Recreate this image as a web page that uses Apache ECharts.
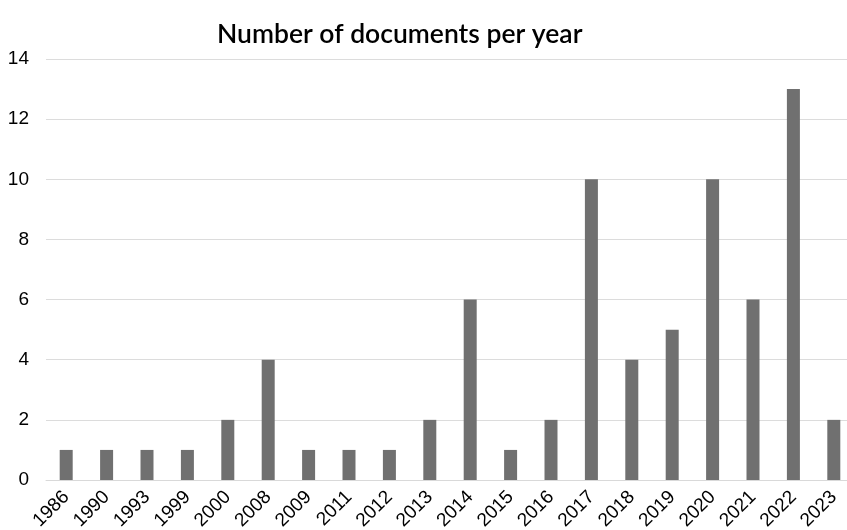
<!DOCTYPE html>
<html>
<head>
<meta charset="utf-8">
<script src="https://cdn.jsdelivr.net/npm/echarts@6/dist/echarts.min.js"></script>
<style>
  html, body { margin: 0; padding: 0; background: #fff; }
  #chart { width: 847px; height: 530px; }
</style>
</head>
<body>
<div id="chart"></div>
<script>
var years = ['1986', '1990', '1993', '1999', '2000', '2008', '2009', '2011', '2012', '2013',
             '2014', '2015', '2016', '2017', '2018', '2019', '2020', '2021', '2022', '2023'];
var docs = [1, 1, 1, 1, 2, 4, 1, 1, 1, 2, 6, 1, 2, 10, 4, 5, 10, 6, 13, 2];

var myChart = echarts.init(document.getElementById('chart'));
myChart.setOption({
    animation: false,
    title: {
        text: 'Number of documents per year',
        left: 212,
        top: 16,
        textStyle: {
            fontFamily: 'Lato',
            fontSize: 26.5,
            fontWeight: 600,
            color: '#000'
        }
    },
    grid: {
        left: 46,
        top: 59,
        width: 808,
        height: 421,
        outerBoundsMode: 'none'
    },
    xAxis: {
        type: 'category',
        data: years,
        axisTick: { show: false },
        axisLine: { lineStyle: { color: '#d9d9d9', width: 1 } },
        axisLabel: {
            rotate: 45,
            interval: 0,
            margin: 14,
            fontFamily: 'Liberation Sans',
            fontSize: 19,
            color: '#000'
        }
    },
    yAxis: {
        type: 'value',
        min: 0,
        max: 14,
        interval: 2,
        axisLine: { show: false },
        axisTick: { show: false },
        splitLine: { lineStyle: { color: '#dcdcdc', width: 1 } },
        axisLabel: {
            margin: 17,
            fontFamily: 'Liberation Sans',
            fontSize: 19,
            color: '#000'
        }
    },
    series: [{
        type: 'bar',
        data: docs,
        barWidth: 13,
        itemStyle: { color: '#707070' }
    }]
});
</script>
</body>
</html>
